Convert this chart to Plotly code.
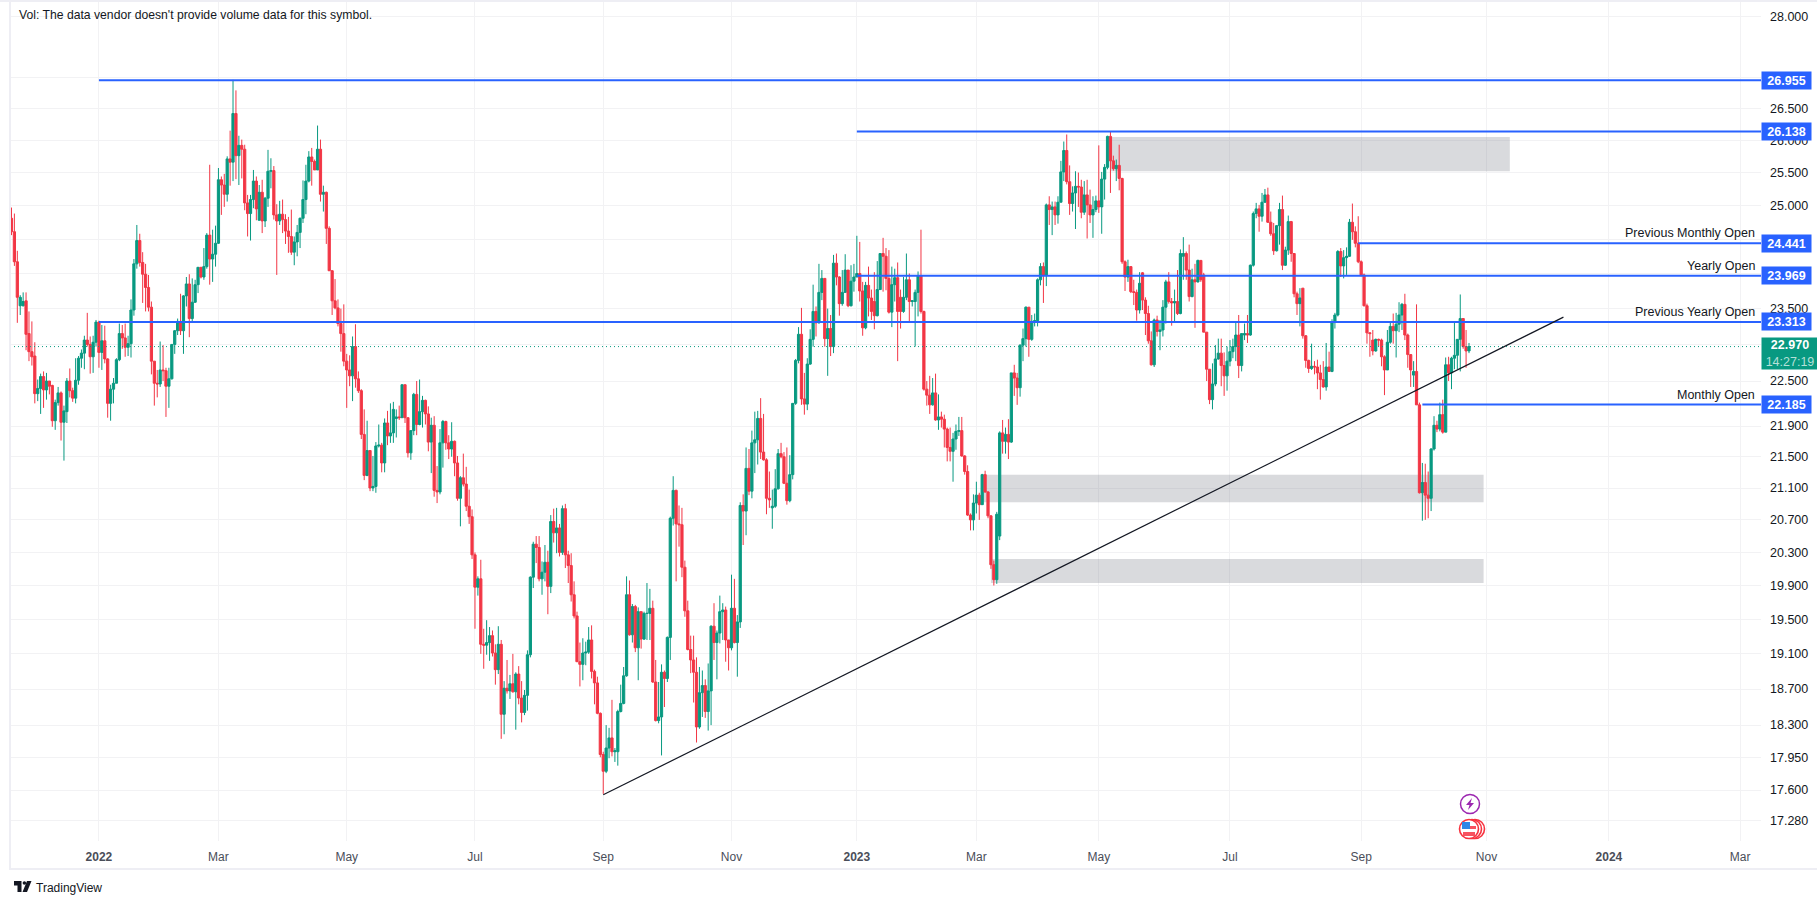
import math
import plotly.graph_objects as go

opens = [
24.81,24.61,24.17,23.54,23.54,23.61,23.15,22.90,22.84,22.33,
22.40,22.56,22.38,22.50,22.44,21.97,22.21,22.34,21.95,22.09,
22.50,22.37,22.27,22.51,22.81,22.88,23.06,23.00,22.83,23.03,
23.31,22.89,23.05,22.80,22.20,22.39,22.47,22.79,23.15,23.09,
22.96,23.01,23.48,24.14,24.48,24.16,23.99,23.80,23.52,22.77,
22.47,22.46,22.65,22.64,22.43,22.53,23.00,23.19,23.32,23.19,
23.68,23.85,23.36,23.59,23.84,24.09,23.95,24.10,24.56,24.21,
24.28,24.44,25.39,25.31,25.17,25.71,25.66,26.42,25.76,25.92,
25.86,25.04,24.88,25.09,25.37,24.78,25.20,24.77,25.11,25.52,
25.53,24.86,24.77,24.87,24.79,24.62,24.54,24.31,24.46,24.60,
24.81,25.09,25.37,25.74,25.67,25.54,25.86,25.17,25.20,24.66,
24.04,23.61,23.51,23.29,23.15,22.77,22.65,22.57,22.97,22.53,
22.37,21.79,21.26,21.58,21.10,21.12,21.64,21.65,21.42,21.94,
21.77,21.81,22.00,22.02,22.01,22.45,22.01,21.55,21.84,22.32,
21.92,22.09,22.24,22.06,21.69,21.91,21.07,21.05,21.68,21.96,
21.68,21.60,21.70,21.42,20.97,21.23,21.15,20.87,20.74,20.27,
19.88,19.98,19.21,19.20,19.23,19.31,19.11,18.92,19.21,18.42,
18.71,18.68,18.76,18.67,18.87,18.60,18.44,18.63,19.09,20.00,
20.40,20.36,19.98,20.06,20.18,19.89,20.68,20.54,20.60,20.30,
20.84,20.27,20.14,19.79,19.54,19.01,18.98,19.11,19.12,19.26,
18.90,18.77,18.43,17.98,17.80,18.05,18.16,18.01,18.01,18.45,
18.54,18.85,19.79,19.32,19.65,19.17,19.59,19.27,19.57,19.57,
19.63,18.78,18.35,18.39,18.89,18.82,19.29,20.72,21.07,20.65,
20.64,20.12,19.60,19.15,19.03,18.89,18.28,18.66,18.74,18.45,
18.68,19.42,19.23,19.34,19.59,19.61,19.26,19.17,19.63,19.23,
19.47,20.88,20.81,21.35,21.06,21.68,21.72,22.00,21.56,21.46,
20.97,20.85,20.87,21.09,21.54,21.50,21.16,20.94,21.27,22.20,
22.78,23.14,22.26,22.19,22.73,23.07,23.46,23.30,23.73,23.93,
23.08,23.22,22.97,24.15,23.95,23.57,23.73,24.05,23.54,23.89,
23.95,24.00,23.75,23.23,23.83,23.65,23.60,23.40,23.77,24.29,
24.25,23.93,23.45,23.84,23.94,23.66,23.46,23.66,23.91,23.60,
23.60,23.73,23.97,23.46,22.39,22.31,22.18,22.34,21.98,22.02,
21.99,21.86,21.62,21.57,21.73,21.83,21.84,21.51,21.31,20.76,
20.70,20.91,21.01,20.89,21.27,21.05,20.75,20.15,19.97,20.50,
21.81,21.70,21.79,21.69,22.61,22.54,22.41,22.99,23.08,23.52,
23.07,23.32,23.33,23.91,24.10,23.98,25.01,24.94,24.98,24.86,
25.05,25.51,25.84,25.36,25.03,25.19,25.29,25.28,24.90,25.16,
25.01,24.86,24.94,25.07,24.98,25.40,25.58,26.06,25.68,25.56,
25.61,25.41,24.17,23.95,24.10,23.74,23.73,23.48,24.01,23.62,
23.43,23.05,22.72,23.34,23.18,23.20,23.52,23.88,23.60,23.58,
23.60,23.43,24.25,24.29,24.05,23.67,23.91,23.88,24.19,23.98,
23.17,22.66,22.25,22.46,22.80,22.88,22.71,22.57,22.77,22.90,
22.97,23.13,22.71,23.13,23.15,23.13,24.12,24.88,24.95,24.84,
25.05,25.16,24.75,24.58,24.33,24.70,24.94,24.12,24.34,24.76,
24.29,23.71,23.57,23.79,23.12,22.78,22.67,22.70,22.69,22.61,
22.52,22.42,22.69,22.63,23.31,23.41,24.32,24.11,24.23,24.25,
24.75,24.61,24.44,24.17,23.98,23.54,23.16,23.06,22.91,23.07,
23.06,22.83,22.65,23.03,23.25,23.19,23.28,23.41,23.56,23.13,
22.86,22.58,22.63,22.18,21.04,21.17,21.01,20.97,21.60,21.91,
21.86,22.05,21.82,22.72,22.61,22.81,22.85,23.07,23.36,22.97,22.91,
]
highs = [
24.97,24.88,24.33,23.69,23.73,23.73,23.46,23.32,23.03,22.52,
22.60,22.63,22.61,22.50,22.45,22.25,22.42,22.36,22.17,22.54,
22.67,22.41,22.81,22.84,22.93,23.12,23.44,23.11,23.12,23.34,
23.33,23.27,23.26,22.81,22.45,22.54,22.81,23.29,23.27,23.29,
23.12,23.63,24.21,24.71,24.58,24.31,24.14,23.98,23.60,22.77,
22.65,23.04,22.99,22.68,22.68,23.00,23.20,23.36,23.71,23.69,
23.95,23.99,23.93,23.91,24.09,24.09,24.37,24.59,25.62,24.64,
24.70,25.57,25.44,25.48,25.75,26.15,26.96,26.79,26.07,26.01,
25.93,25.16,25.16,25.54,25.44,25.31,25.39,25.13,25.85,25.72,
25.60,25.02,25.07,25.09,24.87,24.83,24.94,24.54,24.71,24.82,
25.38,25.62,25.83,25.88,25.70,26.23,26.01,25.30,25.21,24.69,
24.05,23.92,23.63,23.50,23.56,22.87,22.85,23.11,23.28,22.63,
22.39,22.12,21.97,21.58,21.51,21.69,21.92,21.68,22.00,22.10,
22.20,22.22,22.12,22.17,22.45,22.45,22.01,21.84,22.34,22.50,
22.52,22.30,22.25,22.16,22.01,22.03,21.38,21.86,21.98,21.97,
21.78,21.95,21.71,21.51,21.25,21.54,21.37,21.08,20.83,20.30,
20.01,20.21,19.39,19.49,19.41,19.37,19.21,19.42,19.26,18.79,
19.03,18.86,19.10,18.89,18.96,18.79,18.69,19.14,20.01,20.43,
20.50,20.50,20.19,20.39,20.32,20.76,20.84,20.85,20.65,20.88,
20.90,20.32,20.29,19.95,19.59,19.23,19.28,19.24,19.41,19.43,
18.92,18.84,18.44,18.01,18.30,18.27,18.58,18.05,18.47,18.75,
18.95,20.01,19.96,19.68,19.67,19.64,19.59,19.59,19.93,19.86,
19.72,19.03,18.78,18.98,18.91,19.30,20.74,21.25,21.08,20.88,
20.85,20.20,19.72,19.31,19.31,19.06,18.95,18.91,18.81,18.99,
19.43,19.69,19.37,19.78,19.69,19.65,19.26,20.03,19.98,19.55,
20.92,21.02,21.62,21.60,21.84,22.09,22.10,22.27,22.06,21.48,
21.31,21.08,21.34,21.60,21.68,21.56,21.62,21.52,22.20,22.80,
23.24,23.51,22.61,22.81,23.21,23.84,23.53,24.14,24.05,23.93,
23.50,23.41,24.27,24.29,23.96,24.05,24.28,24.05,24.12,24.14,
24.55,24.46,23.88,23.88,24.10,23.77,24.02,24.18,24.29,24.52,
24.37,24.34,24.10,24.07,24.16,23.77,23.95,24.29,24.00,23.62,
23.77,24.03,24.64,23.47,22.50,22.57,22.54,22.60,22.32,22.09,
22.05,21.88,21.88,21.81,21.92,22.02,22.02,21.52,21.39,20.78,
21.02,21.18,21.04,21.28,21.32,21.06,20.76,20.20,20.80,21.83,
21.98,21.88,21.99,22.61,22.72,22.61,23.00,23.22,23.53,23.52,
23.41,23.43,23.93,24.15,24.16,25.03,25.14,25.06,25.06,25.14,
25.68,25.98,26.09,25.61,25.29,25.52,25.50,25.39,25.37,25.39,
25.24,25.14,25.15,25.92,25.51,25.63,26.07,26.14,25.76,25.70,
25.93,25.42,24.19,24.20,24.10,23.91,23.77,24.02,24.02,23.66,
23.54,23.18,23.36,23.40,23.34,23.62,23.91,24.02,23.65,23.77,
24.05,24.35,24.53,24.32,24.42,24.07,24.14,24.20,24.19,24.01,
23.17,22.66,22.74,22.99,23.08,23.08,22.89,22.97,23.06,23.08,
23.31,23.41,23.15,23.29,23.41,24.13,24.91,25.04,25.01,25.19,
25.25,25.27,24.91,24.74,24.71,25.04,25.15,24.39,24.85,24.77,
24.29,23.74,23.79,23.79,23.13,22.79,23.01,22.77,22.79,22.72,
22.77,23.02,22.90,23.35,23.44,24.34,24.37,24.34,24.38,24.80,
25.03,24.69,24.84,24.19,24.00,23.57,23.17,23.20,23.08,23.08,
23.08,22.85,23.20,23.30,23.43,23.44,23.59,23.58,23.71,23.15,
22.86,22.77,23.56,22.21,21.42,21.41,21.31,21.61,22.03,21.97,
22.21,22.25,22.82,22.83,22.83,23.31,23.07,23.70,23.36,23.20,23.02,
]
lows = [
24.56,24.11,23.30,23.41,23.53,22.92,22.77,22.71,22.20,22.23,
22.06,22.14,22.25,22.32,21.89,21.85,22.17,21.71,21.45,21.94,
22.28,22.22,22.20,22.45,22.68,22.66,22.97,22.60,22.61,22.97,
22.68,22.65,22.74,22.01,21.97,22.20,22.47,22.77,22.94,22.83,
22.84,22.82,23.40,24.07,24.10,23.58,23.46,23.46,22.59,22.17,
22.28,22.42,22.50,22.02,22.14,22.52,22.87,23.13,23.13,22.87,
23.53,23.10,23.30,23.58,23.72,23.93,23.91,24.07,23.84,23.88,
24.10,24.43,24.86,24.98,25.06,25.30,25.37,25.40,25.31,25.41,
24.93,24.54,24.48,24.96,24.78,24.81,24.59,24.68,24.98,25.26,
24.79,23.98,24.71,24.59,24.43,24.30,24.27,24.12,24.25,24.37,
24.74,24.87,25.35,25.30,25.54,25.54,25.06,24.91,24.43,24.04,
23.41,23.49,23.25,22.90,22.70,22.14,22.43,22.23,22.41,22.34,
21.73,21.20,21.25,21.06,21.06,21.04,21.62,21.30,21.30,21.65,
21.68,21.68,21.75,21.98,22.01,21.94,21.49,21.46,21.78,21.78,
21.91,21.88,21.92,21.57,21.29,20.99,20.91,21.02,21.36,21.59,
21.47,21.50,21.25,20.94,20.62,21.12,20.81,20.65,20.22,19.39,
19.78,19.10,18.93,19.09,19.02,19.07,18.75,18.87,18.15,18.20,
18.65,18.59,18.66,18.25,18.53,18.33,18.41,18.46,19.06,19.87,
20.17,19.95,19.79,19.95,19.56,19.81,20.42,20.29,20.25,20.27,
20.11,19.93,19.71,19.51,19.01,18.73,18.80,18.97,19.10,18.82,
18.53,18.42,17.95,17.56,17.78,17.94,17.96,17.90,17.86,18.44,
18.53,18.84,19.31,19.23,19.12,18.80,19.16,19.26,19.26,19.26,
18.77,18.34,18.32,17.97,18.50,18.78,19.03,20.63,19.95,20.37,
20.00,19.53,19.14,18.88,18.55,18.11,18.26,18.39,18.38,18.24,
18.30,19.03,18.81,19.22,19.26,19.01,18.91,19.14,19.22,18.84,
19.40,20.39,20.51,21.01,20.97,21.29,21.40,21.47,21.45,20.77,
20.85,20.59,20.85,21.08,21.48,21.15,20.89,20.92,21.21,22.18,
22.74,22.18,22.05,22.11,22.72,22.97,23.11,23.29,23.62,22.97,
22.57,22.84,22.88,23.83,23.40,23.54,23.73,23.52,23.53,23.74,
23.95,23.60,23.12,23.21,23.39,23.34,23.21,23.39,23.77,23.74,
23.76,23.43,23.24,23.60,22.77,23.22,23.44,23.62,23.30,23.53,
22.97,23.39,23.43,22.37,22.17,22.06,22.17,21.97,21.85,21.88,
21.62,21.44,21.44,21.18,21.59,21.77,21.50,21.27,20.75,20.57,
20.57,20.78,20.70,20.89,21.04,20.72,20.10,19.90,19.92,20.45,
21.54,21.54,21.47,21.68,22.30,22.18,22.29,22.77,22.97,22.83,
23.05,23.25,23.25,23.83,23.58,23.82,24.71,24.56,24.71,24.73,
25.05,25.37,25.32,24.86,24.91,24.65,24.98,24.81,24.86,24.51,
24.74,24.52,24.90,24.89,24.58,25.09,25.55,25.19,25.53,25.37,
25.23,24.14,23.75,23.88,23.72,23.55,23.33,23.43,23.48,23.13,
23.01,22.71,22.69,23.11,22.92,23.11,23.29,23.57,23.26,23.32,
23.41,23.42,23.91,23.91,23.60,23.66,23.23,23.87,23.88,23.17,
22.50,22.19,22.12,22.43,22.79,22.43,22.30,22.37,22.70,22.81,
22.77,22.54,22.63,23.06,23.02,23.12,24.10,24.81,24.61,24.76,
25.04,24.74,24.55,24.27,24.32,24.42,24.05,24.11,24.27,24.17,
23.66,23.41,23.25,23.08,22.68,22.61,22.65,22.59,22.39,22.25,
22.41,22.37,22.63,22.62,23.22,23.39,23.95,23.93,23.98,24.24,
24.49,24.38,24.15,23.96,23.53,23.01,22.83,22.85,22.90,22.97,
22.70,22.31,22.65,23.01,23.01,22.82,23.17,23.20,23.06,22.68,
22.42,22.42,22.18,21.03,20.69,20.70,20.72,20.81,21.58,21.82,
21.83,21.80,21.82,22.50,22.39,22.66,22.66,22.63,22.94,22.68,22.88,
]
closes = [
24.61,24.17,23.66,23.66,23.60,23.14,22.90,22.83,22.33,22.40,
22.56,22.38,22.50,22.43,21.97,22.21,22.34,21.95,22.10,22.50,
22.37,22.27,22.51,22.81,22.88,23.06,23.00,22.83,23.03,23.31,
22.89,23.05,22.80,22.20,22.39,22.47,22.79,23.15,23.09,22.96,
23.01,23.48,24.14,24.48,24.16,23.99,23.80,23.52,22.77,22.47,
22.46,22.65,22.64,22.43,22.53,23.00,23.19,23.32,23.19,23.68,
23.85,23.36,23.59,23.84,24.09,23.95,24.10,24.56,24.21,24.28,
24.44,25.39,25.31,25.17,25.71,25.66,26.42,25.76,25.92,25.86,
25.04,24.88,25.09,25.37,24.95,25.20,24.77,25.11,25.52,25.53,
24.86,24.77,24.87,24.79,24.62,24.54,24.31,24.46,24.60,24.81,
25.09,25.37,25.74,25.67,25.54,25.86,25.17,25.20,24.66,24.04,
23.61,23.51,23.29,23.15,22.77,22.65,22.57,22.97,22.53,22.37,
21.79,21.26,21.58,21.10,21.12,21.64,21.65,21.42,21.94,21.77,
21.81,22.12,22.02,22.01,22.45,22.01,21.55,21.84,22.32,21.92,
22.09,22.24,22.06,21.69,21.91,21.07,21.05,21.68,21.96,21.68,
21.60,21.70,21.42,20.97,21.23,21.15,20.87,20.74,20.27,19.88,
19.98,19.21,19.20,19.23,19.31,19.11,18.92,19.21,18.42,18.71,
18.68,18.76,18.67,18.87,18.60,18.44,18.63,19.09,20.00,20.40,
20.36,19.98,20.06,20.18,19.89,20.68,20.54,20.60,20.30,20.84,
20.27,20.14,19.79,19.54,19.01,18.98,19.11,19.12,19.26,18.90,
18.77,18.43,17.98,17.80,18.05,18.16,18.01,18.02,18.45,18.54,
18.85,19.79,19.32,19.65,19.17,19.59,19.27,19.57,19.57,19.63,
18.78,18.35,18.39,18.89,18.82,19.29,20.72,21.07,20.65,20.64,
20.12,19.60,19.15,19.03,18.89,18.28,18.66,18.74,18.45,18.68,
19.42,19.23,19.34,19.59,19.61,19.26,19.17,19.63,19.23,19.47,
20.88,20.81,21.35,21.06,21.68,21.72,22.00,21.56,21.46,20.97,
20.95,20.87,21.09,21.54,21.50,21.16,20.94,21.27,22.20,22.78,
23.14,22.26,22.19,22.73,23.07,23.46,23.30,23.73,23.93,23.08,
23.22,22.97,24.15,23.95,23.57,23.73,24.05,23.54,23.89,23.95,
24.00,23.75,23.23,23.83,23.65,23.46,23.40,23.77,24.29,24.25,
23.93,23.45,23.84,23.94,23.46,23.46,23.66,23.91,23.60,23.61,
23.73,23.97,23.46,22.39,22.31,22.18,22.34,21.98,22.02,21.99,
21.86,21.62,21.57,21.73,21.83,21.84,21.51,21.31,20.76,20.70,
20.91,21.01,20.89,21.27,21.05,20.75,20.15,19.97,20.77,21.81,
21.70,21.79,21.69,22.61,22.54,22.41,22.99,23.08,23.52,23.07,
23.32,23.33,23.91,24.10,23.98,25.01,24.94,24.98,24.86,25.05,
25.51,25.84,25.36,25.03,25.19,25.29,25.28,24.90,25.16,25.01,
24.86,24.94,25.07,24.98,25.40,25.58,26.06,25.68,25.56,25.61,
25.41,24.17,23.95,24.10,23.74,23.73,23.48,23.86,23.62,23.43,
23.05,22.72,23.34,23.18,23.20,23.52,23.88,23.60,23.58,23.60,
23.43,24.29,24.29,24.05,23.67,23.91,23.88,24.19,23.91,23.17,
22.66,22.25,22.46,22.80,22.88,22.71,22.57,22.77,22.90,22.97,
23.13,22.71,23.15,23.15,23.13,24.12,24.88,24.95,24.84,25.05,
25.16,24.75,24.58,24.33,24.70,24.94,24.12,24.34,24.76,24.29,
23.71,23.57,23.65,23.12,22.78,22.67,22.70,22.69,22.61,22.52,
22.42,22.69,22.63,23.31,23.41,24.32,24.11,24.23,24.25,24.75,
24.61,24.44,24.17,23.98,23.54,23.16,23.15,22.91,23.07,23.06,
22.83,22.65,23.03,23.25,23.19,23.28,23.41,23.56,23.13,22.86,
22.65,22.63,22.18,21.04,21.17,21.01,20.97,21.60,21.91,21.86,
22.05,21.82,22.72,22.61,22.81,22.85,23.07,23.36,22.97,22.91,22.97,
]

time_tick_bars = [30, 71, 115, 159, 203, 247, 290, 331, 373, 418, 463, 506, 548, 593]
time_tick_labels = ["<b>2022</b>", "Mar", "May", "Jul", "Sep", "Nov", "<b>2023</b>", "Mar", "May", "Jul", "Sep", "Nov", "<b>2024</b>", "Mar"]

price_ticks = [28, 27, 26.5, 26, 25.5, 25, 24.5, 24, 23.5, 23, 22.5, 21.9, 21.5, 21.1, 20.7, 20.3, 19.9, 19.5, 19.1, 18.7, 18.3, 17.95, 17.6, 17.28]
price_tick_labels = ["28.000", "", "26.500", "26.000", "25.500", "25.000", "", "", "23.500", "", "22.500", "21.900", "21.500", "21.100", "20.700", "20.300", "19.900", "19.500", "19.100", "18.700", "18.300", "17.950", "17.600", "17.280"]

level_values = [26.955, 26.138, 24.441, 23.969, 23.313, 22.185]
level_start_bars = [30, 290, 462, 290, 30, 484]
level_names = ["", "", "Previous Monthly Open", "Yearly Open", "Previous Yearly Open", "Monthly Open"]

zone_bars = [(377, 514), (333, 505), (336, 505)]
zone_prices = [(25.52, 26.05), (20.92, 21.27), (19.93, 20.22)]

trend_bars = [203, 532.4]
trend_prices = [17.55, 23.38]

last_price = 22.970
countdown = "14:27:19"
Y_MAX, Y_MIN = 28.25, 17.07
X_MIN, X_MAX = -0.51, 600.17

BLUE = "#2962FF"
GREEN = "#089981"
RED = "#F23645"
GRID = "#F2F2F4"
BAND = "#EEEEF4"
FONT = "Liberation Sans"

L, R, T, B = 10, 1761, 2, 841
W, H = 1817, 905
fx = lambda px: (px - L) / (R - L)
fy = lambda py: (B - py) / (B - T)

bars = list(range(len(closes)))
fig = go.Figure()
fig.add_trace(go.Candlestick(
    x=bars, open=opens, high=highs, low=lows, close=closes, whiskerwidth=0,
    increasing=dict(line=dict(color=GREEN, width=1), fillcolor=GREEN),
    decreasing=dict(line=dict(color=RED, width=1), fillcolor=RED),
    showlegend=False, hoverinfo="skip",
))
fig.add_trace(go.Scatter(x=[X_MIN, X_MAX], y=[last_price, last_price], mode="lines",
                         line=dict(color=GREEN, width=1, dash="1px,3px"), showlegend=False, hoverinfo="skip"))
for v, s in zip(level_values, level_start_bars):
    fig.add_trace(go.Scatter(x=[s, X_MAX], y=[v, v], mode="lines",
                             line=dict(color=BLUE, width=2), showlegend=False, hoverinfo="skip"))
fig.add_trace(go.Scatter(x=trend_bars, y=trend_prices, mode="lines",
                         line=dict(color="#131722", width=1.2), showlegend=False, hoverinfo="skip"))

shapes = []
for (x0, x1), (y0, y1) in zip(zone_bars, zone_prices):
    shapes.append(dict(type="rect", xref="x", yref="y", x0=x0, x1=x1, y0=y0, y1=y1,
                       fillcolor="rgba(120,123,134,0.28)", line=dict(width=0), layer="between"))


def box(x0, y0, x1, y1, color):
    return dict(type="rect", xref="paper", yref="paper", x0=fx(x0), x1=fx(x1), y0=fy(y0), y1=fy(y1),
                fillcolor=color, line=dict(width=0), layer="above")


def ring(cx, cy, r, fill, stroke, w=1.5):
    return dict(type="circle", xref="paper", yref="paper", x0=fx(cx - r), x1=fx(cx + r), y0=fy(cy - r), y1=fy(cy + r),
                fillcolor=fill, line=dict(color=stroke, width=w), layer="above")


def poly(points, color):
    d = "M " + " L ".join(f"{fx(a):.6f} {fy(b):.6f}" for a, b in points) + " Z"
    return dict(type="path", xref="paper", yref="paper", path=d, fillcolor=color, line=dict(width=0), layer="above")


# chart frame
shapes += [box(0, 0, W, 2, BAND), box(9, 0, 11, 869, BAND), box(9, 868, W, 870, BAND)]
# event icons
shapes += [ring(1470, 804, 9.5, "#FFFFFF", "#9C27B0")]
shapes += [poly([(1472, 798), (1466, 805), (1469.5, 805), (1468, 810), (1474, 803), (1470.5, 803)], "#9C27B0")]
for cx in (1475, 1472, 1469):
    shapes.append(ring(cx, 829, 9.5, "#FFFFFF", "#F7323F", 1.6))
shapes += [box(1462, 826, 1476, 829, "#F7525F"), box(1463, 832, 1475, 836, "#F7525F"),
           box(1462, 822, 1470, 829, "#2E86E6")]
# TradingView mark
shapes += [poly([(14, 881), (21.5, 881), (21.5, 892), (17.5, 892), (17.5, 885.5), (14, 885.5)], "#131722"),
           ring(24.4, 883, 1.8, "#131722", "#131722", 0),
           poly([(27, 881), (31.5, 881), (27, 892), (22.5, 892)], "#131722")]

annotations = [dict(xref="paper", yref="paper", x=fx(17), y=fy(15), xanchor="left", yanchor="middle",
                    text="Vol: The data vendor doesn't provide volume data for this symbol.", showarrow=False,
                    font=dict(family=FONT, size=12.2, color="#131722")),
               dict(xref="paper", yref="paper", x=fx(33.5), y=fy(887.5), xanchor="left", yanchor="middle",
                    text="TradingView", showarrow=False, font=dict(family=FONT, size=12, color="#131722"))]
for v, name in zip(level_values, level_names):
    annotations.append(dict(xref="paper", yref="y", x=1, y=math.log10(v), xanchor="left", yanchor="middle",
                            text=f"<b>{v:.3f}</b>", showarrow=False, bgcolor=BLUE, width=49, height=17, borderpad=0,
                            font=dict(family=FONT, size=12.5, color="#FFFFFF")))
    if name:
        annotations.append(dict(xref="paper", yref="y", x=fx(1756.5), y=math.log10(v), xanchor="right", yanchor="bottom",
                                yshift=1, text=name, showarrow=False,
                                font=dict(family=FONT, size=12.5, color="#131722")))
annotations.append(dict(xref="paper", yref="paper", x=1, y=fy(353.5), xanchor="left", yanchor="middle",
                        text=f"<b>{last_price:.3f}</b><br><span style='color:#B5E0D8'>{countdown}</span>",
                        showarrow=False, bgcolor=GREEN, width=56, height=31, borderpad=0, align="center",
                        font=dict(family=FONT, size=12.5, color="#FFFFFF")))

fig.update_layout(
    width=W, height=H, margin=dict(l=L, r=W - R, t=T, b=H - B, autoexpand=False),
    paper_bgcolor="#FFFFFF", plot_bgcolor="#FFFFFF", showlegend=False, hovermode=False,
    boxgap=0.24, boxgroupgap=0,
    shapes=shapes, annotations=annotations, font=dict(family=FONT, size=12, color="#131722"),
    xaxis=dict(range=[X_MIN, X_MAX], rangeslider=dict(visible=False), tickmode="array", tickvals=time_tick_bars,
               ticktext=time_tick_labels, showgrid=True, gridcolor=GRID, gridwidth=1, zeroline=False, showline=False,
               ticks="", tickfont=dict(family=FONT, size=12, color="#4A4E59"), ticklabelstandoff=7),
    yaxis=dict(type="log", range=[math.log10(Y_MIN), math.log10(Y_MAX)], side="right", tickmode="array",
               tickvals=price_ticks, ticktext=price_tick_labels, showgrid=True, gridcolor=GRID, gridwidth=1,
               zeroline=False, showline=False, ticks="", tickfont=dict(family=FONT, size=12.5, color="#131722"),
               ticklabelstandoff=8),
)

fig.write_html("out.html", config={"displayModeBar": False},
               post_script="document.body.style.margin='0';document.body.style.overflow='hidden';")
